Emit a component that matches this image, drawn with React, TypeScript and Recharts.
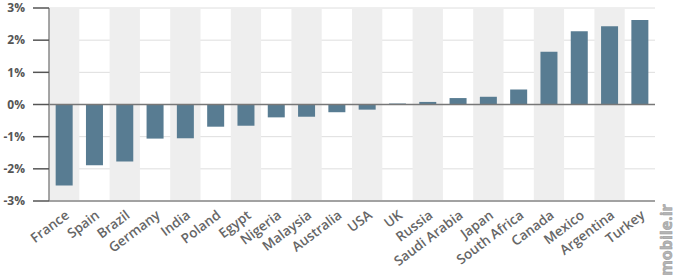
import { BarChart, Bar, XAxis, YAxis, CartesianGrid, ReferenceArea, ReferenceLine } from "recharts";

const countries = [
  "France", "Spain", "Brazil", "Germany", "India", "Poland", "Egypt", "Nigeria", "Malaysia", "Australia",
  "USA", "UK", "Russia", "Saudi Arabia", "Japan", "South Africa", "Canada", "Mexico", "Argentina", "Turkey"
];
const change = [
  -2.52, -1.89, -1.77, -1.06, -1.05, -0.69, -0.66, -0.4, -0.38, -0.24,
  -0.16, 0.03, 0.08, 0.2, 0.24, 0.47, 1.64, 2.28, 2.43, 2.63
];
const yTicks = [-3, -2, -1, 0, 1, 2, 3];

const data = countries.map((name, i) => ({ name, value: change[i] }));
// every other column gets a light band behind it
const shaded = countries.filter((_, i) => i % 2 === 0);

const font = "'Open Sans', sans-serif";

function CountryTick(props: any) {
  const { x, y, payload } = props;
  return (
    <g transform={`translate(${x + 6},${y + 14})`}>
      <text x={0} y={0} textAnchor="end" transform="rotate(-37)" fill="#666" fontSize={13.5} fontWeight={600} fontFamily={font}>
        {payload.value}
      </text>
    </g>
  );
}

export default function App() {
  return (
    <div style={{ position: "absolute", left: 0, top: 0, width: 690, height: 279, background: "#fff" }}>
      <BarChart width={690} height={279} data={data} margin={{ top: 8, right: 35, bottom: 0, left: 0 }} barCategoryGap="22%">
        {shaded.map((c) => (
          <ReferenceArea key={c} x1={c} x2={c} y1={-3} y2={3} fill="#eeeeee" fillOpacity={1} stroke="none" />
        ))}
        <CartesianGrid vertical={false} stroke="#dedede" />
        <XAxis dataKey="name" height={78} interval={0} tickLine={false} tickSize={0} axisLine={{ stroke: "#888", strokeWidth: 1.5 }} tick={<CountryTick />} />
        <YAxis
          domain={[-3, 3]}
          ticks={yTicks}
          width={49}
          tickSize={16}
          tickMargin={8}
          tickFormatter={(v: number) => `${v}%`}
          axisLine={{ stroke: "#888", strokeWidth: 1.5 }}
          tickLine={{ stroke: "#555", strokeWidth: 1.5 }}
          tick={{ fill: "#555", fontSize: 12, fontWeight: 700, fontFamily: font }}
        />
        <ReferenceLine y={0} stroke="#777" strokeWidth={1.5} />
        <Bar dataKey="value" fill="#587c92" isAnimationActive={false} />
      </BarChart>
      <div
        style={{
          position: "absolute",
          left: 666,
          top: 240,
          transform: "translate(-50%, -50%) rotate(-90deg)",
          fontFamily: font,
          fontWeight: 700,
          fontSize: 16,
          color: "#b5b5b5",
          WebkitTextStroke: "0.5px #999",
          whiteSpace: "nowrap",
        }}
      >
        mobile.ir
      </div>
    </div>
  );
}
